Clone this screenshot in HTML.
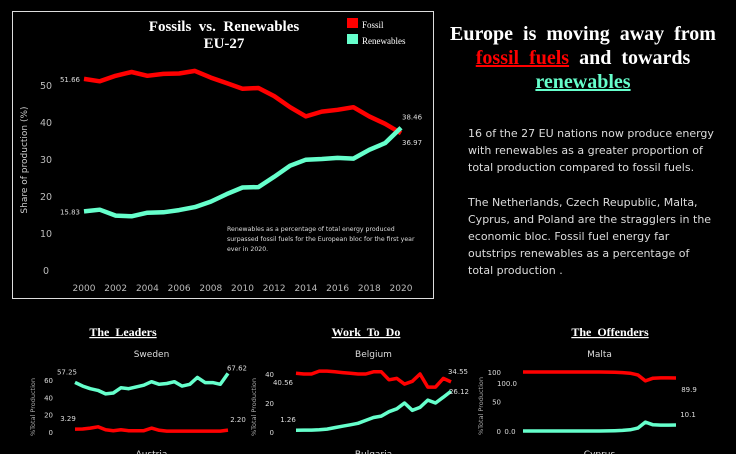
<!DOCTYPE html>
<html><head><meta charset="utf-8"><style>
html,body{margin:0;padding:0;background:#000;width:736px;height:454px;overflow:hidden}
svg{display:block}
text{white-space:pre}
.sans{font-family:"DejaVu Sans","Liberation Sans",sans-serif}
.serif{font-family:"Liberation Serif",serif}
</style></head><body>
<svg id="root" width="736" height="454" viewBox="0 0 736 454">
<rect x="12.5" y="11.5" width="421" height="287" fill="#000" stroke="#ddd" stroke-width="1"/>
<text x="224" y="31" text-anchor="middle" class="serif" font-weight="bold" font-size="15" fill="#fff">Fossils  vs.  Renewables</text>
<text x="224" y="48" text-anchor="middle" class="serif" font-weight="bold" font-size="15" fill="#fff">EU-27</text>
<g>
<rect x="347" y="18" width="11" height="10" fill="#ff0000"/>
<text x="362" y="28" class="serif" font-size="9" fill="#fff">Fossil</text>
<rect x="347" y="34" width="11" height="10" fill="#66ffcc"/>
<text x="362" y="44" class="serif" font-size="9" fill="#fff">Renewables</text>
</g>
<text transform="translate(27,160) rotate(-90)" text-anchor="middle" class="sans" font-size="9" fill="#ccc">Share of production (%)</text>
<g id="main"></g>
<text x="227" y="231" class="sans" font-size="6.2" fill="#ddd"><tspan x="227">Renewables as a percentage of total energy produced</tspan><tspan x="227" dy="10">surpassed fossil fuels for the European bloc for the first year</tspan><tspan x="227" dy="10">ever in 2020.</tspan></text>

<g class="serif" font-weight="bold" font-size="20" text-anchor="middle">
<text x="583" y="40" fill="#fff">Europe  is  moving  away  from</text>
<text x="583" y="64" fill="#fff"><tspan fill="#ff0000" text-decoration="underline">fossil  fuels</tspan>  and  towards</text>
<text x="583" y="88" fill="#66ffcc" text-decoration="underline">renewables</text>
</g>
<text class="sans" font-size="11" fill="#ddd">
<tspan x="468" y="137">16 of the 27 EU nations now produce energy</tspan>
<tspan x="468" y="154">with renewables as a greater proportion of</tspan>
<tspan x="468" y="171">total production compared to fossil fuels.</tspan>
<tspan x="468" y="206">The Netherlands, Czech Reupublic, Malta,</tspan>
<tspan x="468" y="223">Cyprus, and Poland are the stragglers in the</tspan>
<tspan x="468" y="240">economic bloc. Fossil fuel energy far</tspan>
<tspan x="468" y="257">outstrips renewables as a percentage of</tspan>
<tspan x="468" y="274">total production .</tspan>
</text>

<g class="serif" font-weight="bold" font-size="12" fill="#fff" text-anchor="middle" text-decoration="underline">
<text x="123" y="336">The  Leaders</text>
<text x="366" y="336">Work  To  Do</text>
<text x="610" y="336">The  Offenders</text>
</g>
<g id="small"></g>
</svg>
<script>
const years=[2000,2001,2002,2003,2004,2005,2006,2007,2008,2009,2010,2011,2012,2013,2014,2015,2016,2017,2018,2019,2020];
const fossilEU=[51.66,51,52.5,53.5,52.5,53,53.1,53.8,52,50.5,49,49.2,47,44,41.5,42.8,43.3,44,41.5,39.5,36.97];
const renewEU=[15.83,16.3,14.7,14.5,15.5,15.6,16.2,17,18.5,20.5,22.3,22.4,25.2,28.2,29.8,30,30.3,30.1,32.5,34.3,38.46];
const yTicks=[0,10,20,30,40,50];
const xTicks=[2000,2002,2004,2006,2008,2010,2012,2014,2016,2018,2020];
const swedenRenew=[57.25,53,50,48,44,45,51,50,52,54,58,55,56,58,53,55,63,57,57,55,67.62];
const swedenFossil=[3.29,3.5,4.5,6,2.5,1.5,2.5,1.5,1.5,1.5,4.5,2,1,1,1,1,1,1,1,1,2.2];
const belgiumFossil=[40.56,40,40,42,42,41.5,41,40.5,40,40,41.5,41.5,36,37,33,35,40,31,31,37,34.55];
const belgiumRenew=[1.26,1.3,1.3,1.5,2,3,4,5,6,8,10,11,14,16,20,15,17,22,20,24,28.12];
const maltaFossil=[100,100,100,100,100,100,100,100,100,100,100,99.8,99.5,99,98,95,85,89.5,90,90,89.9];
const maltaRenew=[0,0,0,0,0,0,0,0,0,0,0,0.2,0.5,1,2,5,15,10.5,10,10,10.1];
const NS='http://www.w3.org/2000/svg';
function mk(p,tag,at,txt){const e=document.createElementNS(NS,tag);for(const k in at)e.setAttribute(k,at[k]);if(txt!==undefined)e.textContent=txt;p.appendChild(e);return e;}
const RED='#ff0000',TEAL='#66ffcc';
const g=document.getElementById('main');
const mx=y=>84+(y-2000)*(401-84)/20;
const my=v=>270-v*3.7;
yTicks.forEach(t=>{const e=mk(g,'text',{x:46,y:my(t)+4,'text-anchor':'middle','font-size':'9.5',fill:'#bbb','class':'sans'},t);

});
xTicks.forEach(t=>{const e=mk(g,'text',{x:mx(t),y:291,'text-anchor':'middle','font-size':'9','fill':'#bbb','class':'sans'},t);

});
function line(p,xs,vals,fx,fy,col,w){const d=vals.map((v,i)=>(i?'L':'M')+fx(xs[i]).toFixed(1)+','+fy(v).toFixed(1)).join('');return mk(p,'path',{d:d,fill:'none',stroke:col,'stroke-width':w,'stroke-linejoin':'round'});}
let l=line(g,years,fossilEU,mx,my,RED,4.5);


l=line(g,years,renewEU,mx,my,TEAL,4.5);


function lab(p,x,y,t,anchor,fs,name){const e=mk(p,'text',{x:x,y:y,'text-anchor':anchor||'start','font-size':fs||7,fill:'#ddd','class':'sans'},t);

}
lab(g,80,my(fossilEU[0])+3,fossilEU[0].toFixed(2),'end',7,'fossil-start-label');
lab(g,80,my(renewEU[0])+3,renewEU[0].toFixed(2),'end',7,'renewables-start-label');
lab(g,402,my(renewEU[20])-8,renewEU[20].toFixed(2),'start',7,'renewables-end-label');
lab(g,402,my(fossilEU[20])+12,fossilEU[20].toFixed(2),'start',7,'fossil-end-label');
const s=document.getElementById('small');
function small(cfg){
 const grp=mk(s,'g',{});
 
 
 const fx=y=>cfg.x0+(y-2000)*(cfg.x1-cfg.x0)/20;
 const fy=v=>cfg.y0-(v-cfg.min)*(cfg.y0-cfg.y1)/(cfg.max-cfg.min);
 lab(grp,(cfg.x0+cfg.x1)/2,357,cfg.title,'middle',9,cfg.name+'-title');
 cfg.ticks.forEach(t=>lab(grp,cfg.x0-22,fy(t)+3,t,'end',7,cfg.name+'-tick-'+t));
 const yt=mk(grp,'text',{transform:'translate('+(cfg.x0-40)+','+(cfg.y0-25)+') rotate(-90)','text-anchor':'middle','font-size':'6.5',fill:'#aaa','class':'sans'},'%Total Production');
 
 
 cfg.series.forEach(sr=>{
  const p=line(grp,years,sr.v,fx,fy,sr.c,3.5);
  
  
  lab(grp,fx(2000)+sr.sx,fy(sr.v[0])+sr.sy,sr.sl,'middle',7,cfg.name+'-'+sr.n+'-start-label');
  lab(grp,fx(2020)+sr.ex,fy(sr.v[20])+sr.ey,sr.el,'middle',7,cfg.name+'-'+sr.n+'-end-label');
 });
 lab(grp,(cfg.x0+cfg.x1)/2,457,cfg.next,'middle',9,cfg.name+'-next-title');
}
small({name:'sweden',title:'Sweden',next:'Austria',x0:75,x1:228,y0:432,y1:380,min:0,max:60,ticks:[0,20,40,60],
 series:[{n:'renewables',v:swedenRenew,c:TEAL,sx:-8,sy:-8,ex:9,ey:-3,sl:'57.25',el:'67.62'},
         {n:'fossil',v:swedenFossil,c:RED,sx:-7,sy:-8,ex:10,ey:-8,sl:'3.29',el:'2.20'}]});
small({name:'belgium',title:'Belgium',next:'Bulgaria',x0:296,x1:451,y0:432,y1:374,min:0,max:40,ticks:[0,20,40],
 series:[{n:'fossil',v:belgiumFossil,c:RED,sx:-13,sy:12,ex:7,ey:-8,sl:'40.56',el:'34.55'},
         {n:'renewables',v:belgiumRenew,c:TEAL,sx:-8,sy:-8,ex:8,ey:3,sl:'1.26',el:'26.12'}]});
small({name:'malta',title:'Malta',next:'Cyprus',x0:523,x1:676,y0:431,y1:372,min:0,max:100,ticks:[0,50,100],
 series:[{n:'fossil',v:maltaFossil,c:RED,sx:-16,sy:14,ex:13,ey:14,sl:'100.0',el:'89.9'},
         {n:'renewables',v:maltaRenew,c:TEAL,sx:-13,sy:3,ex:12,ey:-8,sl:'0.0',el:'10.1'}]});
</script>
</body></html>
